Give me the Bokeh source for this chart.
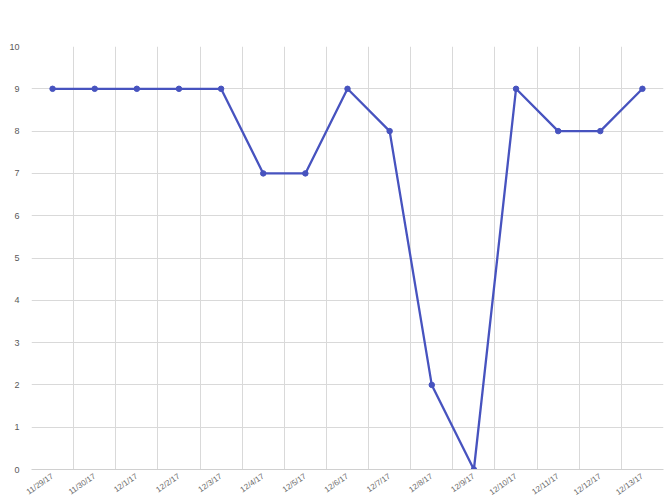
import math
from bokeh.plotting import figure
from bokeh.models import FixedTicker, Range1d, Label
from bokeh.embed import file_html
from bokeh.resources import INLINE

dates = ["11/29/17", "11/30/17", "12/1/17", "12/2/17", "12/3/17", "12/4/17", "12/5/17",
         "12/6/17", "12/7/17", "12/8/17", "12/9/17", "12/10/17", "12/11/17", "12/12/17", "12/13/17"]
banks = [9, 9, 9, 9, 9, 7, 7, 9, 8, 2, 0, 9, 8, 8, 9]
y_ticks = list(range(0, 11))
title_text = "RTC Usage by Number of Banks"

n = len(dates)
xs = [i + 0.5 for i in range(n)]

W, H = 666, 503
BL, BR, BT, BB = 31, 3, 46, 34
frame_w = W - BL - BR
frame_h = H - BT - BB

p = figure(width=W, height=H, output_backend="svg", toolbar_location=None,
           x_range=Range1d(0, n), y_range=Range1d(0, 10),
           min_border_left=BL, min_border_right=BR, min_border_top=BT, min_border_bottom=BB)
p.outline_line_color = None
p.background_fill_color = "white"
p.border_fill_color = "white"

title = Label(x=frame_w / 2, y=frame_h + 21, x_units="screen", y_units="screen",
              text=title_text, text_align="center", text_baseline="middle",
              text_font="Liberation Sans", text_font_size="13px", text_color="#595959")
p.add_layout(title)

p.line(xs, banks, line_color="#4753bf", line_width=2.3)
p.scatter(xs, banks, size=5.5, fill_color="#4753bf", line_color="#4753bf")

p.xaxis.ticker = FixedTicker(ticks=xs)
p.xaxis.major_label_overrides = {x: d for x, d in zip(xs, dates)}
p.xaxis.major_label_orientation = 0.6
p.xaxis.major_label_text_font = "Liberation Sans"
p.xaxis.major_label_text_font_size = "8px"
p.xaxis.major_label_text_color = "#6a6a6a"
p.xaxis.major_tick_line_color = None
p.xaxis.minor_tick_line_color = None
p.xaxis.axis_line_color = "#d0d0d0"
p.xaxis.major_label_standoff = 0

p.yaxis.ticker = FixedTicker(ticks=y_ticks)
p.yaxis.major_label_text_font = "Liberation Sans"
p.yaxis.major_label_text_font_size = "9px"
p.yaxis.major_label_text_color = "#595959"
p.yaxis.major_tick_line_color = None
p.yaxis.minor_tick_line_color = None
p.yaxis.axis_line_color = None
p.yaxis.major_label_standoff = 6

p.xgrid.ticker = FixedTicker(ticks=list(range(n + 1)))
p.xgrid.grid_line_color = "#d9d9d9"
p.ygrid.grid_line_color = "#d9d9d9"

open("out.html", "w").write(file_html(p, INLINE))
